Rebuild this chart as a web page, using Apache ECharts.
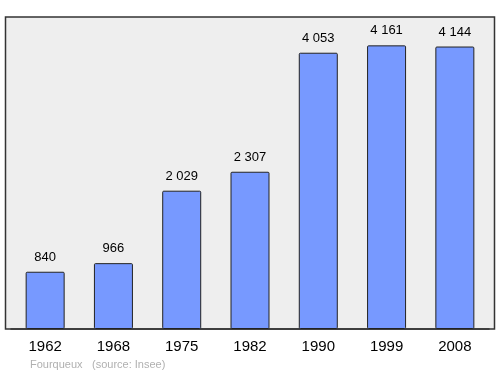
<!DOCTYPE html>
<html><head><meta charset="utf-8">
<script src="https://cdn.jsdelivr.net/npm/echarts@6/dist/echarts.min.js"></script>
<style>html,body{margin:0;padding:0;background:#fff}#c{width:500px;height:374px}</style>
</head><body><div id="c"></div>
<script>
const years = ['1962','1968','1975','1982','1990','1999','2008'];
const population = [840, 966, 2029, 2307, 4053, 4161, 4144];
const yMax = 4577;

const chart = echarts.init(document.getElementById('c'), null, {renderer:'canvas'});
chart.setOption({
  animation:false,
  backgroundColor:'#ffffff',
  graphic:[
    {type:'rect', z:-10, shape:{x:5.5,y:17,width:489,height:312},
     style:{fill:'#eeeeee', stroke:'#333333', lineWidth:1.5}},
    {type:'text', left:30, top:359, style:{text:'Fourqueux', fill:'#b0b0b0', font:'11px "Liberation Sans", Arial, sans-serif'}},
    {type:'text', left:92, top:359, style:{text:'(source: Insee)', fill:'#b0b0b0', font:'11px "Liberation Sans", Arial, sans-serif'}}
  ],
  grid:{left:11, right:11, top:17, bottom:45, show:false},
  xAxis:{type:'category', data:years,
    axisLine:{show:true, lineStyle:{color:'#333', width:1.5}},
    axisTick:{show:false},
    axisLabel:{color:'#000', fontSize:15, margin:10, fontFamily:'"Liberation Sans", Arial, sans-serif'}},
  yAxis:{type:'value', min:0, max:yMax, show:false, splitLine:{show:false}},
  series:[{type:'bar', data:population, barWidth:39,
    itemStyle:{color:'#7799ff', borderColor:'#222', borderWidth:1, borderRadius:1},
    label:{show:true, position:'top', distance:8, color:'#000', fontSize:13,
      fontFamily:'"Liberation Sans", Arial, sans-serif',
      formatter:p=>p.value.toLocaleString('fr-FR').replace(/\s/g,' ')}}]
});
</script></body></html>
